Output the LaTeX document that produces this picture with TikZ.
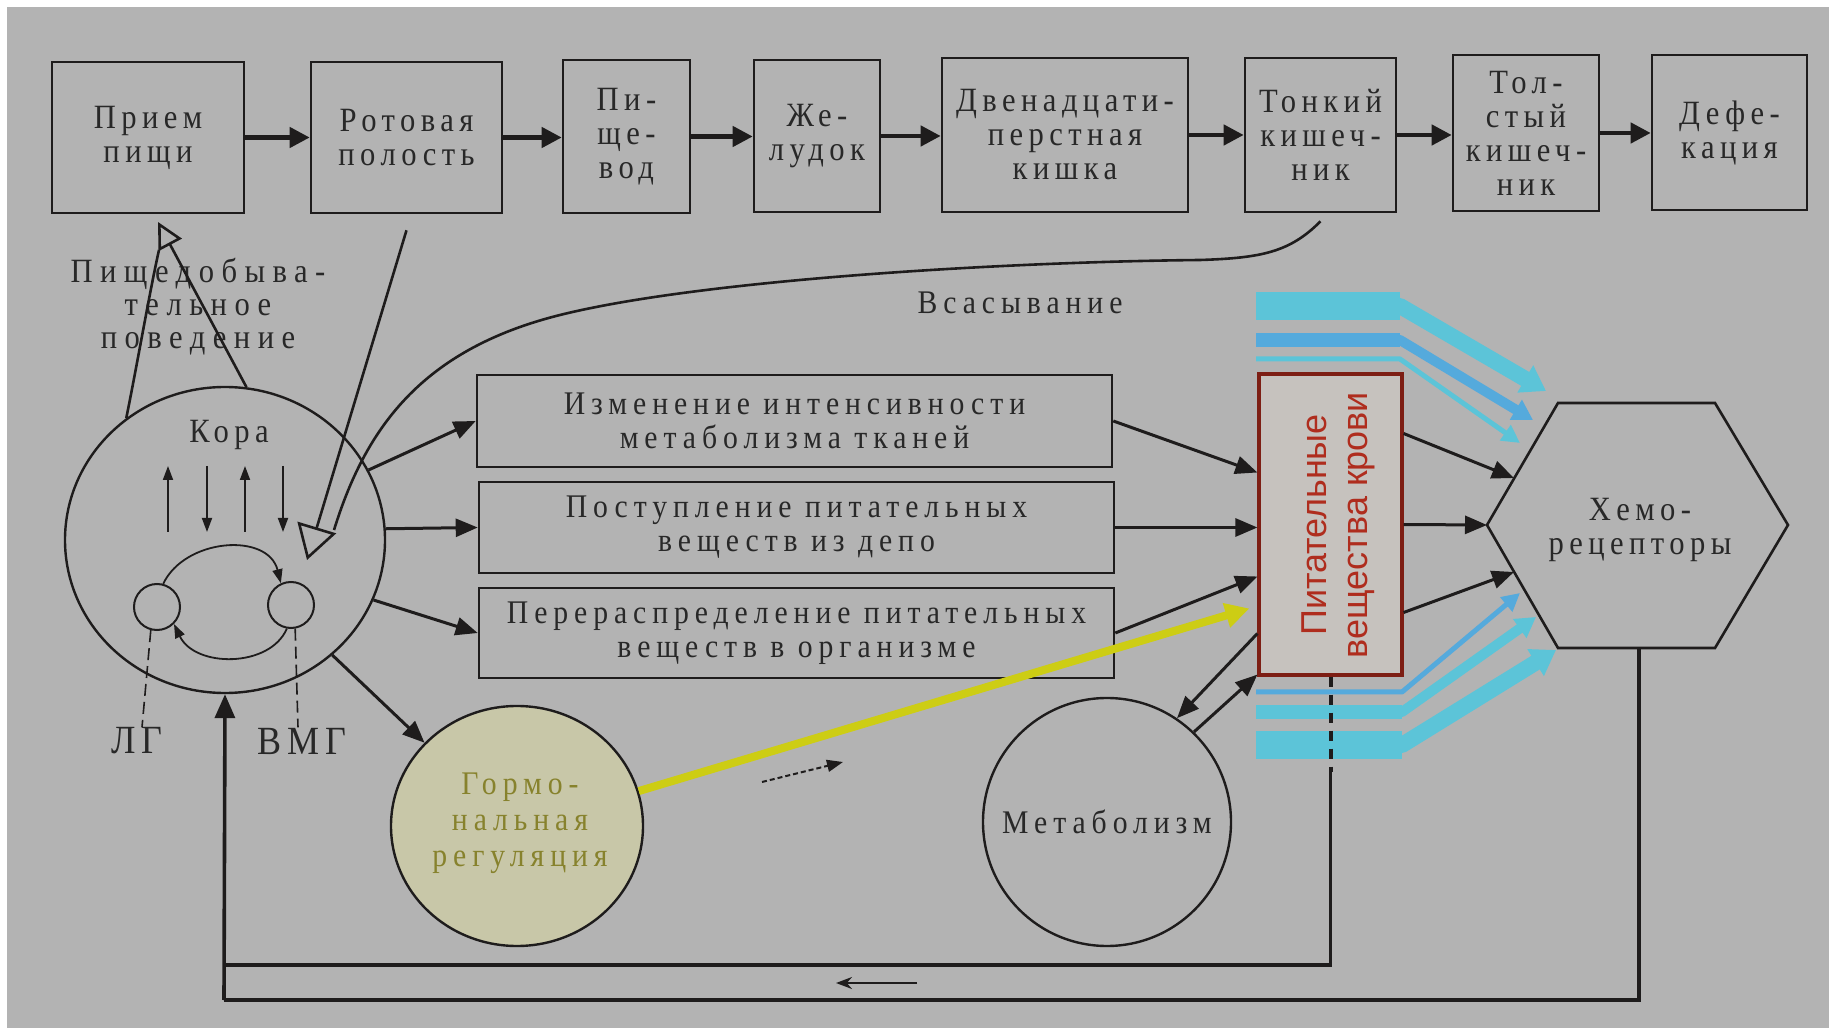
\documentclass[tikz,border=0pt]{standalone}
\usepackage{fontspec}
\setmainfont{Liberation Serif}
\newfontfamily\spA[LetterSpace=16,FakeStretch=0.9]{Liberation Serif}
\newfontfamily\spB[LetterSpace=18,FakeStretch=0.9]{Liberation Serif}
\newfontfamily\spC[LetterSpace=22,FakeStretch=0.9]{Liberation Serif}
\newfontfamily\redsf{Liberation Sans}
\usetikzlibrary{arrows.meta,shapes.geometric,calc}
\definecolor{bg}{RGB}{179,179,179}
\definecolor{ink}{RGB}{30,28,28}
\definecolor{txt}{RGB}{40,40,40}
\definecolor{redline}{RGB}{125,30,20}
\definecolor{redtxt}{RGB}{175,45,30}
\definecolor{redfill}{RGB}{198,194,190}
\definecolor{hormfill}{RGB}{200,199,168}
\definecolor{hormtxt}{RGB}{135,130,45}
\definecolor{yel}{RGB}{205,205,20}
\definecolor{cyanA}{RGB}{92,196,216}
\definecolor{cyanB}{RGB}{85,170,220}
\begin{document}
\begin{tikzpicture}[x=0.5pt,y=-0.5pt,
  topbox/.style={draw=ink,line width=1.3pt,text=txt,align=center,inner sep=0pt,font=\spA\fontsize{17}{17}\selectfont},
  midbox/.style={draw=ink,line width=1.3pt,text=txt,align=center,inner sep=0pt,minimum width=317.5pt,font=\spB\fontsize{16.5}{17}\selectfont},
  lbl/.style={text=txt,align=center,inner sep=0pt,font=\spB\fontsize{16.5}{17}\selectfont},
  toparr/.style={draw=ink,line width=2.2pt,-{Triangle[length=10pt,width=10pt]}},
  arr/.style={draw=ink,line width=1.5pt,-{Triangle[length=11pt,width=9pt]}},
  thinarr/.style={draw=ink,line width=0.9pt,-{Triangle[length=7pt,width=5pt]}},
  fbline/.style={draw=ink,line width=1.8pt},
  ringnode/.style={draw=ink,line width=1.2pt,inner sep=0pt},
]
\useasboundingbox (0,0) rectangle (1832,1031);
\fill[white] (0,0) rectangle (1832,1031);
\fill[bg] (7,7) rectangle (1829,1028);

% ---- cyan bands
\coordinate (u1s) at (1256,306); \coordinate (u1b) at (1400,306); \coordinate (u1t) at (1546,391);
\coordinate (u2s) at (1256,340); \coordinate (u2b) at (1400,340); \coordinate (u2t) at (1533,420);
\coordinate (u3s) at (1256,359); \coordinate (u3b) at (1400,359); \coordinate (u3t) at (1520,443);
\coordinate (l3s) at (1256,692); \coordinate (l3b) at (1402,692); \coordinate (l3t) at (1520,593);
\coordinate (l2s) at (1256,712); \coordinate (l2b) at (1402,712); \coordinate (l2t) at (1536,617);
\coordinate (l1s) at (1256,745); \coordinate (l1b) at (1402,745); \coordinate (l1t) at (1556,650);
\draw[cyanA,line width=8pt,line join=round,-{Triangle[length=12pt,width=15pt]}] (u1s) -- (u1b) -- (u1t);
\draw[cyanA,line width=14pt] (u1s) -- (u1b);
\draw[cyanB,line width=5pt,line join=round,-{Triangle[length=10pt,width=11pt]}] (u2s) -- (u2b) -- (u2t);
\draw[cyanB,line width=7pt] (u2s) -- (u2b);
\draw[cyanA,line width=2.5pt,line join=round,-{Triangle[length=9pt,width=9pt]}] (u3s) -- (u3b) -- (u3t);
\draw[cyanB,line width=2.5pt,line join=round,-{Triangle[length=9pt,width=9pt]}] (l3s) -- (l3b) -- (l3t);
\draw[cyanA,line width=5pt,line join=round,-{Triangle[length=10pt,width=11pt]}] (l2s) -- (l2b) -- (l2t);
\draw[cyanA,line width=7pt] (l2s) -- (l2b);
\draw[cyanA,line width=8pt,line join=round,-{Triangle[length=12pt,width=15pt]}] (l1s) -- (l1b) -- (l1t);
\draw[cyanA,line width=14pt] (l1s) -- (l1b);

% ---- top row
\node[topbox,minimum width=96pt,minimum height=75.5pt] (b1) at (148,137.5) {Прием\\пищи};
\node[topbox,minimum width=95.5pt,minimum height=75.5pt] (b2) at (406.5,137.5) {Ротовая\\полость};
\node[topbox,minimum width=63.5pt,minimum height=76.5pt] (b3) at (626.5,136.5) {Пи-\\ще-\\вод};
\node[topbox,minimum width=63pt,minimum height=76pt] (b4) at (817,136) {Же-\\лудок};
\node[topbox,minimum width=123pt,minimum height=77pt] (b5) at (1065,135) {Двенадцати-\\перстная\\кишка};
\node[topbox,minimum width=75.5pt,minimum height=77pt] (b6) at (1320.5,135) {Тонкий\\кишеч-\\ник};
\node[topbox,minimum width=73pt,minimum height=78pt] (b7) at (1526,133) {Тол-\\стый\\кишеч-\\ник};
\node[topbox,minimum width=77.5pt,minimum height=77.5pt] (b8) at (1729.5,132.5) {Дефе-\\кация};
\foreach \a/\b in {b1/b2,b2/b3,b3/b4,b4/b5,b5/b6,b6/b7,b7/b8}
  \draw[toparr] (\a.east) -- (\a.east -| \b.west);

% ---- middle boxes
\node[midbox,minimum height=46pt] (mA) at (794.5,421) {Изменение интенсивности\\метаболизма тканей};
\node[midbox,minimum height=45.5pt] (mB) at (796.5,527.5) {Поступление питательных\\веществ из депо};
\node[midbox,minimum height=45pt] (mC) at (796.5,633) {Перераспределение питательных\\веществ в организме};

% ---- red box
\node[draw=redline,fill=redfill,line width=1.6pt,minimum width=71.5pt,minimum height=150.5pt,inner sep=0pt] (red) at (1330.5,524.5) {};
\node[rotate=90,text=redtxt,font=\redsf\fontsize{18}{20.5}\selectfont,align=center,inner sep=0pt] (redlbl) at (1338,525) {Питательные\\вещества крови};

% ---- hexagon
\draw[ink,line width=1.3pt] (1487,525) -- (1558,403) -- (1715,403) -- (1788,525) -- (1715,648) -- (1558,648) -- cycle;
\node[lbl,font=\spA\fontsize{17}{17}\selectfont] (chemo) at (1640,530) {Хемо-\\рецепторы};
\coordinate (hexU) at (1514,478);
\coordinate (hexL) at (1487,525);
\coordinate (hexD) at (1514,572);
\coordinate (hexB) at (1639,648);

% ---- cortex
\node[ringnode,ellipse,minimum width=160pt,minimum height=153pt] (kora) at (225,540) {};
\node[lbl,font=\spA\fontsize{17}{17}\selectfont] (koralbl) at (229,435) {Кора};
\node[ringnode,circle,minimum size=23pt,line width=1pt] (lg) at (157,607) {};
\node[ringnode,circle,minimum size=23pt,line width=1pt] (vmg) at (291,605) {};
\path (168,532) coordinate (k1a) (168,466) coordinate (k1b)
      (207,466) coordinate (k2a) (207,532) coordinate (k2b)
      (245,532) coordinate (k3a) (245,466) coordinate (k3b)
      (283,466) coordinate (k4a) (283,532) coordinate (k4b);
\draw[thinarr] (k1a) -- (k1b);
\draw[thinarr] (k2a) -- (k2b);
\draw[thinarr] (k3a) -- (k3b);
\draw[thinarr] (k4a) -- (k4b);
\draw[thinarr] (lg.75) .. controls (185,538) and (268,532) .. (vmg.115);
\draw[thinarr] (vmg.-100) .. controls (270,668) and (195,668) .. (lg.-45);
\node[lbl,font=\spA\fontsize{20}{22}\selectfont] (lgt) at (137,741) {ЛГ};
\node[lbl,font=\spA\fontsize{20}{22}\selectfont] (vmgt) at (302,741) {ВМГ};
\draw[ink,line width=0.8pt,dash pattern=on 6pt off 3pt] (lg.-105) -- (lgt.north -| 142,0);
\draw[ink,line width=0.8pt,dash pattern=on 6pt off 3pt] (vmg.-80) -- (vmgt.north -| 298,0);

% ---- food-seeking behaviour
\node[lbl,font=\spC\fontsize{17}{16.5}\selectfont] (behav) at (198,307) {Пищедобыва-\\тельное\\поведение};
\coordinate (ptip) at (158,222);
\coordinate (pleft) at (159,250);
\draw[ink,line width=1.3pt] (kora.129) .. controls (138,360) and (150,290) .. (pleft);
\draw[ink,line width=1.3pt,-{Triangle[open,length=13pt,width=13pt]}] (kora.82) -- (ptip);

% ---- inputs into cortex
\coordinate (kin) at (307,560);
\draw[ink,line width=1.3pt,-{Triangle[open,length=17pt,width=20pt]}] ([yshift=-8pt]b2.south) -- (kin);
\draw[ink,line width=1.3pt] ([yshift=-4pt]b6.south) .. controls (1290,252) and (1262,258) .. (1200,260)
   .. controls (1000,262) and (700,280) .. (560,315)
   .. controls (420,350) and (365,430) .. (334,530);
\node[lbl] (vsas) at (1020,303) {Всасывание};

% ---- hormonal & metabolism
\node[ringnode,ellipse,fill=hormfill,minimum width=126pt,minimum height=120pt] (horm) at (517,826) {};
\node[lbl,text=hormtxt,font=\spB\fontsize{16.5}{18}\selectfont] (hormlbl) at (520,823) {Гормо-\\нальная\\регуляция};
\node[ringnode,circle,minimum size=124pt,text=txt,font=\spB\fontsize{16.5}{17}\selectfont] (metab) at (1107,822) {Метаболизм};

% ---- arrows cortex -> boxes
\draw[arr] (kora.26) -- (mA.west);
\draw[arr] (kora.4) -- (mB.west);
\draw[arr] (kora.-22) -- (mC.west);
\draw[arr] (kora.-47) -- (horm.138);

% ---- boxes -> blood nutrients
\draw[arr] (mA.east) -- ([yshift=26pt]red.west);
\draw[arr] (mB.east) -- (mB.east -| red.west);
\draw[arr] (mC.east) -- ([yshift=-26pt]red.west);
\draw[yel,line width=4pt,-{Triangle[length=12pt,width=12pt]}] (horm.16) -- ([xshift=-4pt,yshift=-42pt]red.west);
\draw[arr] ([yshift=-54.5pt]red.west) -- (metab.56);
\draw[arr] (metab.46) -- ([yshift=1pt]red.south west);

% ---- blood nutrients -> chemoreceptors
\draw[arr] ([yshift=45.5pt]red.east) -- (hexU);
\draw[arr] (red.east) -- (hexL);
\draw[arr] ([yshift=-44pt]red.east) -- (hexD);

% ---- feedback
\coordinate (c1) at (224,965);
\coordinate (c2) at (224,1000);
\draw[ink,line width=2pt,dash pattern=on 5pt off 4pt] (red.south) -- ++(0,95) coordinate (fbA);
\draw[fbline] (fbA) |- (c1);
\draw[fbline] (hexB) |- (c2);
\draw[fbline,-{Triangle[length=12pt,width=10pt]}] (c2) -- (kora.south);

% ---- small direction arrows
\coordinate (sa1) at (917,983); \coordinate (sa2) at (836,983);
\draw[ink,line width=1pt,-{Stealth[length=8pt,width=6pt]}] (sa1) -- (sa2);
\coordinate (da1) at (762,782); \coordinate (da2) at (843,762);
\draw[ink,line width=1pt,dash pattern=on 2.5pt off 1.5pt,-{Triangle[length=8pt,width=6pt]}] (da1) -- (da2);
\end{tikzpicture}
\end{document}
